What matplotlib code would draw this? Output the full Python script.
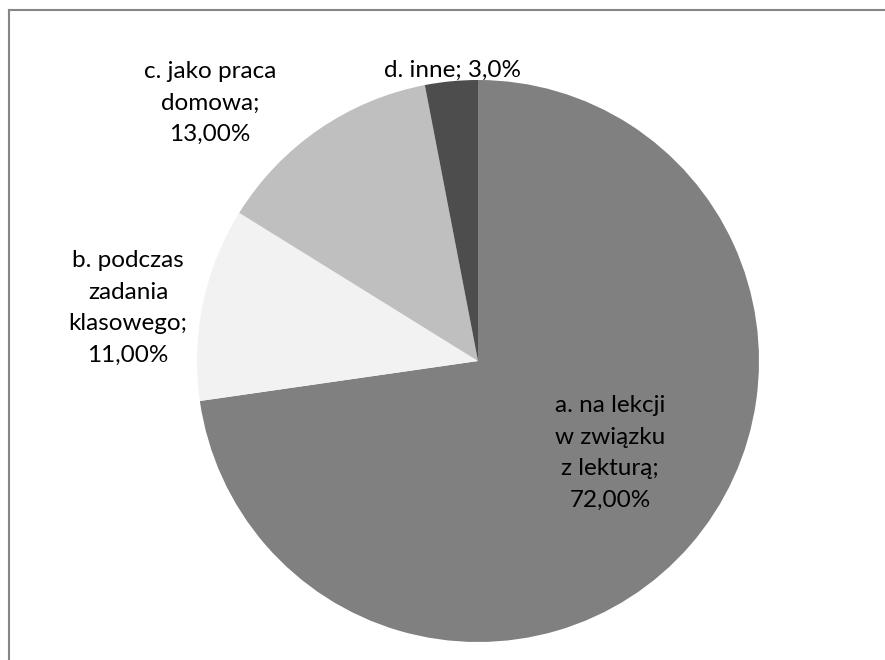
import matplotlib
matplotlib.use("Agg")
import matplotlib.pyplot as plt
from matplotlib.lines import Line2D

categories = ["a. na lekcji\nw związku\nz lekturą;", "b. podczas\nzadania\nklasowego;",
              "c. jako praca\ndomowa;", "d. inne;"]
values = [72.0, 11.0, 13.0, 3.0]
value_labels = ["72,00%", "11,00%", "13,00%", "3,0%"]
colors = ["#808080", "#f2f2f2", "#bfbfbf", "#4d4d4d"]

plt.rcParams['font.family'] = ['Lato', 'DejaVu Sans']

W, H = 885, 660
fig = plt.figure(figsize=(W / 100, H / 100), dpi=100)
fig.patch.set_facecolor("white")

cx, cy, r = 478, 361, 281
ax = fig.add_axes([(cx - r) / W, (H - cy - r) / H, 2 * r / W, 2 * r / H])
ax.pie(values, colors=colors, startangle=90, counterclock=False, radius=1,
       wedgeprops=dict(linewidth=0))
ax.set_xlim(-1, 1)
ax.set_ylim(-1, 1)
ax.set_aspect("equal")
ax.axis("off")

# label positions in pixel coordinates (center of text block)
label_pos = [(610, 453), (128, 308), (210, 103), (452, 70)]
for cat, vl, (px, py) in zip(categories, value_labels, label_pos):
    if "\n" in cat:
        txt = cat + "\n" + vl
    else:
        txt = cat + " " + vl
    fig.text(px / W, 1 - py / H, txt, ha="center", va="center",
             fontsize=17.5, color="#000000", linespacing=1.62)

# frame border (left and top visible)
fig.add_artist(Line2D([9 / W, 9 / W], [0, 1 - 10 / H], transform=fig.transFigure,
                      color="#868686", linewidth=1.5))
fig.add_artist(Line2D([9 / W, 1], [1 - 10 / H, 1 - 10 / H], transform=fig.transFigure,
                      color="#868686", linewidth=1.5))

fig.savefig("out.png", dpi=100, facecolor="white")
